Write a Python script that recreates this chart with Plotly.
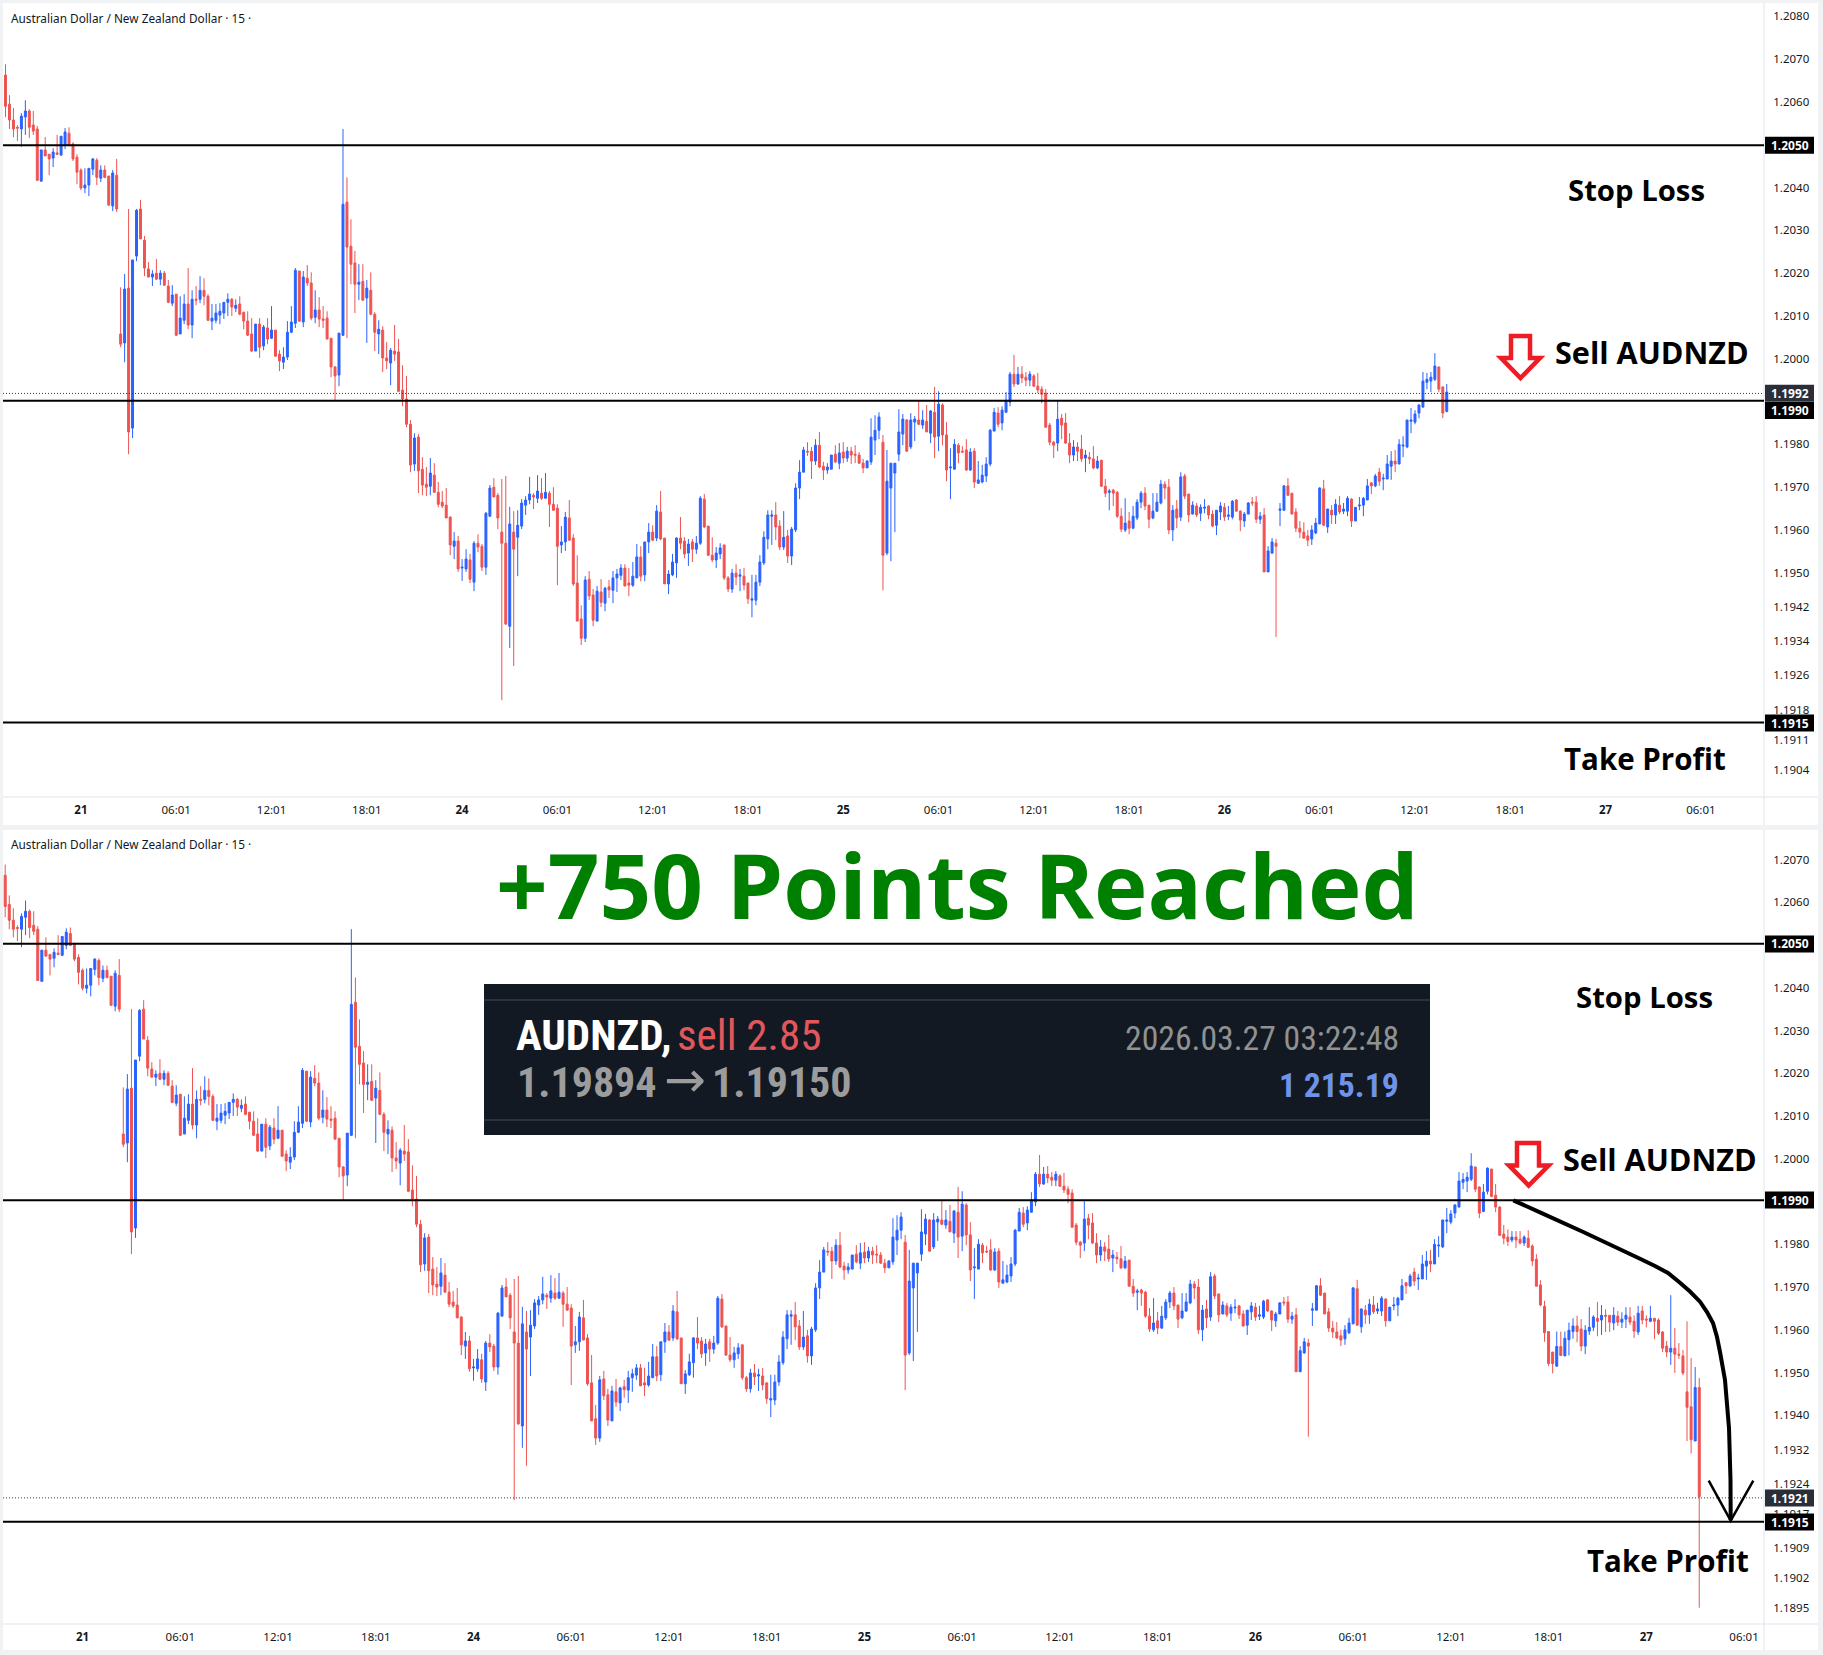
import plotly.graph_objects as go

W, H = 1823, 1655

opens = [
1.20663,1.20595,1.20558,1.20541,1.20537,1.20565,1.20579,1.20546,1.20537,1.20415,
1.20488,1.20478,1.20469,1.20481,1.20476,1.20499,1.20527,1.20502,1.20471,1.20441,
1.20399,1.20406,1.20443,1.20464,1.20422,1.20441,1.20427,1.20357,1.20429,1.20058,
1.20037,1.20165,1.19838,1.20240,1.20350,1.20277,1.20210,1.20191,1.20200,1.20186,
1.20200,1.20170,1.20130,1.20151,1.20058,1.20090,1.20128,1.20079,1.20139,1.20139,
1.20160,1.20146,1.20088,1.20090,1.20102,1.20107,1.20132,1.20139,1.20118,1.20128,
1.20109,1.20088,1.20058,1.20018,1.20081,1.20030,1.20072,1.20048,1.20067,1.20011,
1.19992,1.20004,1.20062,1.20083,1.20205,1.20086,1.20188,1.20177,1.20097,1.20114,
1.20093,1.20095,1.20048,1.19981,1.19962,1.20055,1.20366,1.20263,1.20224,1.20174,
1.20181,1.20142,1.20160,1.20104,1.20058,1.20067,1.20002,1.19990,1.20018,1.20016,
1.19927,1.19906,1.19847,1.19754,1.19817,1.19742,1.19707,1.19702,1.19728,1.19688,
1.19665,1.19658,1.19630,1.19562,1.19574,1.19511,1.19509,1.19530,1.19478,1.19569,
1.19562,1.19513,1.19632,1.19700,1.19681,1.19595,1.19569,1.19375,1.19595,1.19583,
1.19609,1.19658,1.19670,1.19681,1.19674,1.19686,1.19674,1.19686,1.19660,1.19651,
1.19565,1.19572,1.19628,1.19581,1.19476,1.19392,1.19347,1.19485,1.19448,1.19387,
1.19455,1.19429,1.19467,1.19459,1.19488,1.19494,1.19511,1.19476,1.19471,1.19488,
1.19537,1.19495,1.19572,1.19595,1.19581,1.19642,1.19581,1.19474,1.19495,1.19523,
1.19581,1.19574,1.19546,1.19572,1.19555,1.19569,1.19672,1.19609,1.19541,1.19530,
1.19544,1.19565,1.19488,1.19462,1.19499,1.19492,1.19492,1.19476,1.19436,1.19436,
1.19478,1.19523,1.19579,1.19632,1.19635,1.19609,1.19560,1.19586,1.19539,1.19600,
1.19698,1.19735,1.19784,1.19784,1.19761,1.19798,1.19749,1.19740,1.19742,1.19777,
1.19756,1.19782,1.19768,1.19784,1.19777,1.19775,1.19756,1.19745,1.19759,1.19810,
1.19833,1.19805,1.19546,1.19698,1.19733,1.19777,1.19824,1.19857,1.19794,1.19852,
1.19857,1.19845,1.19854,1.19826,1.19875,1.19819,1.19892,1.19822,1.19745,1.19742,
1.19798,1.19784,1.19787,1.19740,1.19784,1.19709,1.19712,1.19726,1.19754,1.19831,
1.19873,1.19850,1.19875,1.19899,1.19964,1.19941,1.19964,1.19957,1.19950,1.19960,
1.19936,1.19929,1.19920,1.19845,1.19805,1.19803,1.19861,1.19850,1.19803,1.19775,
1.19794,1.19789,1.19768,1.19770,1.19766,1.19745,1.19763,1.19702,1.19688,1.19693,
1.19688,1.19632,1.19600,1.19621,1.19604,1.19628,1.19665,1.19686,1.19658,1.19628,
1.19644,1.19663,1.19707,1.19700,1.19600,1.19649,1.19630,1.19726,1.19684,1.19637,
1.19656,1.19639,1.19651,1.19656,1.19637,1.19611,1.19642,1.19653,1.19632,1.19630,
1.19670,1.19644,1.19621,1.19637,1.19665,1.19665,1.19625,1.19635,1.19502,1.19546,
1.19569,1.19646,1.19646,1.19703,1.19686,1.19642,1.19604,1.19595,1.19586,1.19579,
1.19593,1.19614,1.19696,1.19607,1.19646,1.19635,1.19658,1.19644,1.19644,1.19672,
1.19621,1.19656,1.19658,1.19670,1.19710,1.19703,1.19735,1.19719,1.19719,1.19749,
1.19761,1.19754,1.19796,1.19794,1.19854,1.19852,1.19873,1.19887,1.19945,1.19948,
1.19952,1.19981,1.19934,1.19877,1.19924,1.19976,1.19915,1.19887,1.19824,1.19817,
1.19810,1.19817,1.19812,1.19803,1.19814,1.19796,1.19765,1.19705,1.19655,1.19596,
1.19548,1.19515,1.19561,1.19539,1.19577,1.19596,1.19609,1.19602,1.19562,1.19597,
1.19606,1.19627,1.19623,1.19634,1.19634,1.19616,1.19632,1.19618,1.19625,1.19630,
1.19620,1.19595,1.19644,1.19625,1.19620,1.19627,1.19623,1.19595,1.19562,1.19548,
1.19557,1.19543,1.19539,1.19455,1.19420,1.19340,1.19465]

highs = [
1.20688,1.20616,1.20586,1.20546,1.20574,1.20604,1.20583,1.20579,1.20544,1.20488,
1.20518,1.20478,1.20492,1.20523,1.20520,1.20539,1.20541,1.20506,1.20478,1.20445,
1.20445,1.20445,1.20469,1.20469,1.20452,1.20452,1.20427,1.20441,1.20467,1.20167,
1.20198,1.20350,1.20231,1.20350,1.20371,1.20287,1.20226,1.20207,1.20233,1.20207,
1.20205,1.20184,1.20172,1.20151,1.20146,1.20151,1.20212,1.20160,1.20170,1.20193,
1.20188,1.20151,1.20128,1.20128,1.20130,1.20132,1.20153,1.20142,1.20139,1.20146,
1.20109,1.20111,1.20095,1.20081,1.20095,1.20079,1.20095,1.20123,1.20067,1.20020,
1.20027,1.20088,1.20123,1.20212,1.20205,1.20205,1.20219,1.20202,1.20160,1.20144,
1.20123,1.20111,1.20048,1.19983,1.20060,1.20537,1.20424,1.20326,1.20252,1.20221,
1.20221,1.20184,1.20202,1.20109,1.20090,1.20076,1.20039,1.20025,1.20079,1.20046,
1.19985,1.19960,1.19857,1.19826,1.19824,1.19770,1.19747,1.19768,1.19756,1.19712,
1.19691,1.19698,1.19632,1.19595,1.19586,1.19532,1.19555,1.19544,1.19574,1.19590,
1.19567,1.19642,1.19705,1.19721,1.19686,1.19719,1.19726,1.19654,1.19644,1.19646,
1.19672,1.19679,1.19724,1.19686,1.19728,1.19721,1.19733,1.19691,1.19700,1.19660,
1.19609,1.19642,1.19670,1.19590,1.19541,1.19424,1.19492,1.19504,1.19462,1.19469,
1.19485,1.19467,1.19483,1.19504,1.19509,1.19520,1.19520,1.19511,1.19525,1.19567,
1.19562,1.19572,1.19616,1.19611,1.19658,1.19691,1.19581,1.19506,1.19544,1.19583,
1.19630,1.19583,1.19579,1.19579,1.19586,1.19679,1.19684,1.19609,1.19583,1.19560,
1.19569,1.19565,1.19492,1.19509,1.19520,1.19509,1.19511,1.19476,1.19495,1.19495,
1.19541,1.19597,1.19646,1.19646,1.19665,1.19623,1.19644,1.19600,1.19607,1.19709,
1.19763,1.19794,1.19805,1.19794,1.19812,1.19829,1.19759,1.19756,1.19775,1.19798,
1.19803,1.19805,1.19794,1.19794,1.19798,1.19782,1.19766,1.19763,1.19861,1.19868,
1.19875,1.19822,1.19787,1.19756,1.19756,1.19882,1.19871,1.19859,1.19873,1.19866,
1.19903,1.19880,1.19892,1.19880,1.19934,1.19924,1.19896,1.19852,1.19791,1.19812,
1.19803,1.19796,1.19812,1.19791,1.19791,1.19761,1.19752,1.19770,1.19836,1.19885,
1.19887,1.19889,1.19922,1.19969,1.20009,1.19981,1.19983,1.19969,1.19971,1.19964,
1.19967,1.19936,1.19929,1.19850,1.19808,1.19901,1.19871,1.19873,1.19826,1.19810,
1.19805,1.19822,1.19787,1.19782,1.19796,1.19773,1.19763,1.19719,1.19696,1.19696,
1.19691,1.19651,1.19674,1.19642,1.19656,1.19672,1.19691,1.19700,1.19658,1.19686,
1.19686,1.19717,1.19714,1.19719,1.19658,1.19670,1.19735,1.19731,1.19684,1.19667,
1.19663,1.19660,1.19672,1.19658,1.19646,1.19646,1.19665,1.19663,1.19656,1.19670,
1.19672,1.19646,1.19642,1.19665,1.19677,1.19679,1.19642,1.19651,1.19562,1.19581,
1.19579,1.19663,1.19705,1.19721,1.19686,1.19651,1.19621,1.19618,1.19600,1.19611,
1.19628,1.19700,1.19717,1.19649,1.19658,1.19672,1.19679,1.19663,1.19679,1.19674,
1.19653,1.19677,1.19677,1.19719,1.19712,1.19731,1.19745,1.19731,1.19775,1.19784,
1.19787,1.19812,1.19819,1.19857,1.19885,1.19880,1.19894,1.19969,1.19967,1.19969,
1.20013,1.19981,1.19936,1.19941,1.19980,1.19976,1.19941,1.19889,1.19845,1.19835,
1.19831,1.19831,1.19831,1.19821,1.19833,1.19800,1.19777,1.19716,1.19668,1.19596,
1.19548,1.19596,1.19596,1.19596,1.19617,1.19627,1.19633,1.19625,1.19611,1.19653,
1.19634,1.19665,1.19658,1.19648,1.19634,1.19653,1.19644,1.19641,1.19653,1.19653,
1.19634,1.19656,1.19656,1.19634,1.19656,1.19627,1.19627,1.19597,1.19574,1.19681,
1.19604,1.19569,1.19553,1.19620,1.19534,1.19513,1.19487]

lows = [
1.20565,1.20537,1.20518,1.20509,1.20495,1.20523,1.20516,1.20523,1.20417,1.20415,
1.20474,1.20429,1.20448,1.20476,1.20474,1.20490,1.20499,1.20462,1.20408,1.20394,
1.20387,1.20380,1.20429,1.20406,1.20413,1.20422,1.20359,1.20345,1.20343,1.20027,
1.19992,1.19777,1.19815,1.20228,1.20280,1.20193,1.20191,1.20170,1.20184,1.20172,
1.20170,1.20130,1.20123,1.20053,1.20058,1.20081,1.20069,1.20048,1.20125,1.20130,
1.20125,1.20088,1.20067,1.20083,1.20081,1.20093,1.20100,1.20100,1.20109,1.20102,
1.20069,1.20053,1.20016,1.20018,1.20002,1.20020,1.20034,1.20046,1.20006,1.19971,
1.19976,1.19997,1.20060,1.20072,1.20086,1.20074,1.20170,1.20090,1.20083,1.20074,
1.20072,1.20046,1.19957,1.19901,1.19936,1.20053,1.20048,1.20174,1.20107,1.20137,
1.20135,1.20037,1.20102,1.20018,1.20011,1.19969,1.19976,1.19938,1.19995,1.19922,
1.19889,1.19840,1.19735,1.19738,1.19686,1.19681,1.19679,1.19681,1.19688,1.19653,
1.19651,1.19628,1.19541,1.19532,1.19502,1.19481,1.19502,1.19476,1.19457,1.19548,
1.19504,1.19495,1.19632,1.19677,1.19602,1.19202,1.19378,1.19324,1.19282,1.19492,
1.19602,1.19635,1.19660,1.19649,1.19663,1.19670,1.19674,1.19607,1.19646,1.19471,
1.19546,1.19551,1.19576,1.19469,1.19387,1.19331,1.19338,1.19436,1.19375,1.19387,
1.19420,1.19410,1.19441,1.19429,1.19455,1.19483,1.19469,1.19445,1.19467,1.19488,
1.19480,1.19480,1.19546,1.19574,1.19574,1.19576,1.19474,1.19450,1.19492,1.19488,
1.19555,1.19534,1.19516,1.19525,1.19544,1.19565,1.19604,1.19539,1.19525,1.19511,
1.19532,1.19483,1.19455,1.19453,1.19471,1.19457,1.19459,1.19427,1.19396,1.19424,
1.19469,1.19518,1.19555,1.19565,1.19576,1.19553,1.19553,1.19523,1.19518,1.19595,
1.19672,1.19735,1.19773,1.19719,1.19752,1.19744,1.19717,1.19731,1.19742,1.19756,
1.19742,1.19756,1.19759,1.19754,1.19756,1.19754,1.19733,1.19745,1.19752,1.19775,
1.19812,1.19459,1.19541,1.19527,1.19595,1.19761,1.19798,1.19784,1.19789,1.19808,
1.19845,1.19836,1.19829,1.19803,1.19768,1.19784,1.19798,1.19714,1.19672,1.19742,
1.19756,1.19780,1.19738,1.19738,1.19698,1.19709,1.19709,1.19712,1.19749,1.19831,
1.19840,1.19833,1.19875,1.19889,1.19934,1.19939,1.19943,1.19936,1.19936,1.19934,
1.19920,1.19896,1.19840,1.19798,1.19768,1.19784,1.19812,1.19801,1.19756,1.19761,
1.19761,1.19759,1.19735,1.19754,1.19742,1.19742,1.19702,1.19677,1.19646,1.19656,
1.19628,1.19595,1.19595,1.19590,1.19602,1.19623,1.19651,1.19646,1.19604,1.19625,
1.19642,1.19660,1.19672,1.19590,1.19574,1.19604,1.19621,1.19672,1.19618,1.19637,
1.19630,1.19621,1.19639,1.19625,1.19607,1.19588,1.19623,1.19621,1.19623,1.19625,
1.19642,1.19597,1.19607,1.19637,1.19656,1.19616,1.19614,1.19502,1.19502,1.19544,
1.19350,1.19609,1.19646,1.19679,1.19637,1.19595,1.19581,1.19579,1.19562,1.19565,
1.19590,1.19614,1.19609,1.19593,1.19614,1.19614,1.19637,1.19637,1.19632,1.19607,
1.19621,1.19646,1.19632,1.19670,1.19684,1.19700,1.19703,1.19693,1.19719,1.19717,
1.19735,1.19754,1.19770,1.19791,1.19826,1.19847,1.19861,1.19887,1.19929,1.19922,
1.19948,1.19922,1.19861,1.19875,1.19917,1.19910,1.19875,1.19819,1.19800,1.19796,
1.19805,1.19791,1.19800,1.19796,1.19793,1.19749,1.19702,1.19655,1.19572,1.19515,
1.19498,1.19514,1.19540,1.19539,1.19540,1.19579,1.19571,1.19550,1.19543,1.19588,
1.19597,1.19585,1.19588,1.19595,1.19595,1.19599,1.19609,1.19604,1.19604,1.19611,
1.19581,1.19588,1.19613,1.19606,1.19618,1.19578,1.19588,1.19548,1.19536,1.19518,
1.19499,1.19532,1.19494,1.19340,1.19311,1.19340,1.18950]

closes = [
1.20590,1.20558,1.20537,1.20539,1.20567,1.20579,1.20541,1.20532,1.20417,1.20488,
1.20474,1.20467,1.20483,1.20478,1.20520,1.20530,1.20499,1.20467,1.20436,1.20399,
1.20406,1.20445,1.20467,1.20424,1.20441,1.20424,1.20359,1.20434,1.20350,1.20034,
1.20163,1.19829,1.20231,1.20347,1.20280,1.20212,1.20191,1.20198,1.20186,1.20200,
1.20172,1.20132,1.20149,1.20055,1.20095,1.20128,1.20079,1.20139,1.20137,1.20160,
1.20146,1.20090,1.20095,1.20107,1.20111,1.20132,1.20139,1.20121,1.20125,1.20104,
1.20088,1.20055,1.20018,1.20081,1.20027,1.20074,1.20046,1.20067,1.20006,1.19995,
1.20004,1.20062,1.20086,1.20207,1.20088,1.20191,1.20177,1.20095,1.20114,1.20093,
1.20090,1.20046,1.19981,1.19960,1.20060,1.20361,1.20261,1.20221,1.20174,1.20179,
1.20137,1.20165,1.20104,1.20062,1.20069,1.20002,1.19995,1.20020,1.20011,1.19924,
1.19906,1.19847,1.19752,1.19815,1.19738,1.19705,1.19700,1.19733,1.19688,1.19660,
1.19656,1.19628,1.19565,1.19574,1.19509,1.19513,1.19532,1.19485,1.19569,1.19560,
1.19513,1.19639,1.19698,1.19677,1.19628,1.19569,1.19380,1.19614,1.19555,1.19611,
1.19663,1.19670,1.19684,1.19677,1.19691,1.19674,1.19688,1.19660,1.19646,1.19562,
1.19572,1.19630,1.19576,1.19474,1.19387,1.19347,1.19483,1.19446,1.19389,1.19457,
1.19431,1.19464,1.19460,1.19488,1.19497,1.19511,1.19469,1.19471,1.19492,1.19537,
1.19492,1.19572,1.19595,1.19576,1.19644,1.19579,1.19474,1.19497,1.19525,1.19581,
1.19569,1.19544,1.19567,1.19555,1.19569,1.19674,1.19607,1.19541,1.19530,1.19546,
1.19558,1.19488,1.19462,1.19499,1.19490,1.19495,1.19471,1.19439,1.19439,1.19478,
1.19525,1.19583,1.19635,1.19635,1.19607,1.19560,1.19583,1.19539,1.19602,1.19698,
1.19735,1.19787,1.19782,1.19761,1.19798,1.19747,1.19740,1.19747,1.19775,1.19759,
1.19780,1.19768,1.19784,1.19775,1.19775,1.19756,1.19745,1.19761,1.19817,1.19833,
1.19864,1.19541,1.19714,1.19756,1.19756,1.19829,1.19859,1.19784,1.19857,1.19859,
1.19847,1.19857,1.19829,1.19878,1.19817,1.19894,1.19822,1.19740,1.19747,1.19800,
1.19780,1.19782,1.19740,1.19782,1.19712,1.19717,1.19728,1.19754,1.19833,1.19875,
1.19847,1.19880,1.19903,1.19964,1.19941,1.19964,1.19955,1.19950,1.19964,1.19936,
1.19927,1.19917,1.19840,1.19805,1.19798,1.19859,1.19845,1.19803,1.19775,1.19794,
1.19784,1.19766,1.19775,1.19766,1.19745,1.19761,1.19702,1.19686,1.19691,1.19686,
1.19632,1.19602,1.19616,1.19604,1.19632,1.19665,1.19686,1.19656,1.19625,1.19644,
1.19665,1.19707,1.19698,1.19600,1.19646,1.19628,1.19724,1.19679,1.19635,1.19658,
1.19635,1.19653,1.19653,1.19635,1.19609,1.19646,1.19656,1.19630,1.19635,1.19667,
1.19644,1.19623,1.19637,1.19663,1.19663,1.19625,1.19632,1.19502,1.19551,1.19572,
1.19562,1.19649,1.19703,1.19681,1.19637,1.19604,1.19595,1.19581,1.19576,1.19600,
1.19616,1.19698,1.19611,1.19649,1.19635,1.19660,1.19642,1.19649,1.19674,1.19621,
1.19653,1.19658,1.19674,1.19703,1.19703,1.19726,1.19714,1.19721,1.19754,1.19761,
1.19754,1.19800,1.19798,1.19857,1.19857,1.19871,1.19892,1.19948,1.19952,1.19957,
1.19983,1.19929,1.19873,1.19922,1.19978,1.19912,1.19887,1.19821,1.19814,1.19807,
1.19817,1.19810,1.19803,1.19817,1.19793,1.19761,1.19702,1.19658,1.19593,1.19521,
1.19521,1.19561,1.19540,1.19580,1.19599,1.19609,1.19596,1.19562,1.19599,1.19606,
1.19630,1.19620,1.19634,1.19632,1.19618,1.19634,1.19618,1.19625,1.19634,1.19618,
1.19597,1.19639,1.19623,1.19623,1.19627,1.19620,1.19592,1.19557,1.19548,1.19557,
1.19543,1.19541,1.19499,1.19419,1.19343,1.19465,1.19210]

# Candles visible in the first (earlier) snapshot
top_count = 364

time_tick_idx = [19 + 24 * k for k in range(18)]
time_labels = ["<b>21</b>", "06:01", "12:01", "18:01", "<b>24</b>", "06:01", "12:01", "18:01",
               "<b>25</b>", "06:01", "12:01", "18:01", "<b>26</b>", "06:01", "12:01", "18:01",
               "<b>27</b>", "06:01"]

top_ticks = [1.2080, 1.2070, 1.2060, 1.2040, 1.2030, 1.2020, 1.2010, 1.2000, 1.1980, 1.1970,
             1.1960, 1.1950, 1.1942, 1.1934, 1.1926, 1.1918, 1.1911, 1.1904]
bot_ticks = [1.2070, 1.2060, 1.2040, 1.2030, 1.2020, 1.2010, 1.2000, 1.1980, 1.1970, 1.1960,
             1.1950, 1.1940, 1.1932, 1.1924, 1.1917, 1.1909, 1.1902, 1.1895]

top_levels = [1.20499, 1.19902, 1.19150]
bot_levels = [1.20503, 1.19903, 1.19151]
top_last = 1.19919
bot_last = 1.19207

BLUE = "#2962FF"
RED = "#EF5350"
AXIS_FONT = "Noto Sans, Open Sans, sans-serif"
LABEL_FONT = "Open Sans, Noto Sans, sans-serif"
NARROW = "Roboto Condensed, Liberation Sans Narrow, Roboto, sans-serif"
PLOT_R = 1764
PANEL_R = 1818


def px(x):
    return x / W


def py(y):
    return 1 - y / H


def candle(x, o, h, l, c, xa, ya):
    return go.Candlestick(
        x=x, open=o, high=h, low=l, close=c, xaxis=xa, yaxis=ya,
        increasing=dict(line=dict(color=BLUE, width=1), fillcolor=BLUE),
        decreasing=dict(line=dict(color=RED, width=1), fillcolor=RED),
        whiskerwidth=0, hoverinfo="skip", showlegend=False,
    )


fig = go.Figure()
idx = list(range(len(opens)))
fig.add_trace(candle(idx[:top_count], opens[:top_count], highs[:top_count], lows[:top_count],
                     closes[:top_count], "x", "y"))
fig.add_trace(candle(idx, opens, highs, lows, closes, "x2", "y2"))

shapes = []
annos = []


def rect_px(x0, y0, x1, y1, fill, layer="below", line=None):
    shapes.append(dict(type="rect", xref="paper", yref="paper", x0=px(x0), x1=px(x1), y0=py(y0), y1=py(y1),
                       fillcolor=fill, line=dict(width=0) if line is None else line, layer=layer))


def line_px(x0, y0, x1, y1, color, width, layer="above"):
    shapes.append(dict(type="line", xref="paper", yref="paper", x0=px(x0), x1=px(x1), y0=py(y0), y1=py(y1),
                       line=dict(color=color, width=width), layer=layer))


def path_px(points, color, width, fill=None, close=False):
    d = "M" + " L".join(f"{px(a):.5f},{py(b):.5f}" for a, b in points) + (" Z" if close else "")
    s = dict(type="path", xref="paper", yref="paper", path=d, line=dict(color=color, width=width), layer="above")
    if fill:
        s["fillcolor"] = fill
    shapes.append(s)


def text_px(x, y, t, size, color, font=LABEL_FONT, anchor="left"):
    annos.append(dict(xref="paper", yref="paper", x=px(x), y=py(y), text=t, showarrow=False,
                      xanchor=anchor, yanchor="middle", borderpad=0,
                      font=dict(size=size, color=color, family=font)))


def badge(yc, t, fill):
    rect_px(PLOT_R + 1, yc - 8.5, PLOT_R + 50, yc + 8.5, fill, layer="above")
    text_px(PLOT_R + 25.5, yc, f"<b>{t}</b>", 12, "#ffffff", AXIS_FONT, "center")


# panel backgrounds
rect_px(3, 3, PANEL_R, 825, "#ffffff")
rect_px(3, 830, PANEL_R, 1650, "#ffffff")
for y in (797, 1624):
    line_px(3, y, PANEL_R, y, "#E0E3EB", 1, "below")
line_px(PLOT_R, 3, PLOT_R, 825, "#E0E3EB", 1, "below")
line_px(PLOT_R, 830, PLOT_R, 1650, "#E0E3EB", 1, "below")

# levels
for ax, lv in (("y", top_levels), ("y2", bot_levels)):
    for v in lv:
        shapes.append(dict(type="line", xref="paper", yref=ax, x0=px(3), x1=px(PLOT_R), y0=v, y1=v,
                           line=dict(color="#000000", width=2), layer="above"))
for ax, v in (("y", top_last), ("y2", bot_last)):
    shapes.append(dict(type="line", xref="paper", yref=ax, x0=px(3), x1=px(PLOT_R), y0=v, y1=v,
                       line=dict(color="#363A45", width=1, dash="1px,2px"), layer="above"))

# badges
badge(145.3, "1.2050", "#000000")
badge(393.3, "1.1992", "#2A2E39")
badge(410.4, "1.1990", "#000000")
badge(723, "1.1915", "#000000")
badge(944, "1.2050", "#000000")
badge(1200, "1.1990", "#000000")
badge(1498, "1.1921", "#2A2E39")
badge(1522, "1.1915", "#000000")

# red sell arrows
for pts in (
    [(1511, 336), (1530, 336), (1530, 358), (1540, 358), (1520.5, 378), (1501, 358), (1511, 358)],
    [(1517, 1143), (1539, 1143), (1539, 1165.5), (1548.6, 1165.5), (1528.7, 1185.5), (1509, 1165.5),
     (1517, 1165.5)],
):
    path_px(pts, "#EE1C25", 4.5, "#ffffff", True)

# curved black arrow
path_px([(1513.3, 1200.3), (1540, 1212.3), (1583.3, 1232), (1640, 1258.7), (1655, 1266), (1668, 1273),
         (1680, 1282.7), (1690, 1291.5), (1700, 1301.7), (1707, 1312), (1713, 1323), (1717, 1337),
         (1720, 1352), (1725, 1380), (1729, 1428), (1730.5, 1480), (1730.7, 1520)],
        "#000000", 4)
path_px([(1708.7, 1480.7), (1730.7, 1520.7), (1753.3, 1480.7)], "#000000", 2.5)

# result card
rect_px(484, 984, 1430, 1135, "#121922", "above")
line_px(484, 1000, 1430, 1000, "#2A3140", 2)
line_px(484, 1120, 1430, 1120, "#2A3140", 2)

# texts
text_px(10, 17.7, "Australian Dollar / New Zealand Dollar · 15 ·", 11.8, "#131722", AXIS_FONT)
text_px(10, 844, "Australian Dollar / New Zealand Dollar · 15 ·", 11.8, "#131722", AXIS_FONT)

text_px(1567, 189.5, "<b>Stop Loss</b>", 29.3, "#000000")
text_px(1554, 351.8, "<b>Sell AUDNZD</b>", 30.6, "#000000")
text_px(1563, 758, "<b>Take Profit</b>", 29.5, "#000000")
text_px(1575, 996.5, "<b>Stop Loss</b>", 29.3, "#000000")
text_px(1562, 1158.5, "<b>Sell AUDNZD</b>", 30.6, "#000000")
text_px(1586, 1560.5, "<b>Take Profit</b>", 29.5, "#000000")

text_px(495, 884.5, "<b>+750 Points Reached</b>", 90.5, "#008000")

text_px(515, 1035, "<b>AUDNZD,</b>", 43, "#ffffff", NARROW)
text_px(676, 1035, "sell 2.85", 43, "#E2575B", NARROW)
text_px(516, 1082, "<b>1.19894</b>", 42, "#9C9C9C", NARROW)
text_px(684.5, 1080, "→", 50, "#9C9C9C", "DejaVu Sans, Noto Sans, sans-serif", "center")
text_px(710.5, 1082, "<b>1.19150</b>", 42, "#9C9C9C", NARROW)
text_px(1400, 1038, "2026.03.27 03:22:48", 33.7, "#8F9192", NARROW, "right")
text_px(1400, 1085, "<b>1 215.19</b>", 33.7, "#6F93E8", NARROW, "right")

axis_common = dict(showgrid=False, zeroline=False, showline=False, color="#131722")
x_common = dict(axis_common, tickmode="array", tickvals=time_tick_idx, ticktext=time_labels,
                ticks="outside", ticklen=2, tickcolor="rgba(0,0,0,0)",
                tickfont=dict(size=11.5, family=AXIS_FONT, color="#131722"),
                rangeslider=dict(visible=False))
y_common = dict(axis_common, side="right", tickmode="array", ticks="outside", ticklen=6,
                tickcolor="rgba(0,0,0,0)", tickfont=dict(size=11.5, family=AXIS_FONT, color="#131722"))

fig.update_layout(
    width=W, height=H, autosize=False,
    margin=dict(l=0, r=0, t=0, b=0, autoexpand=False),
    paper_bgcolor="#F1F2F4", plot_bgcolor="#ffffff",
    showlegend=False,
    xaxis=dict(x_common, domain=[px(3), px(PLOT_R)], range=[-0.63, 442.9], anchor="y"),
    yaxis=dict(y_common, domain=[py(797), py(4)], range=[1.18976, 1.20829], tickvals=top_ticks,
               ticktext=[f"{v:.4f}" for v in top_ticks], anchor="x"),
    xaxis2=dict(x_common, domain=[px(3), px(PLOT_R)], range=[-0.54, 431.9], anchor="y2"),
    yaxis2=dict(y_common, domain=[py(1624), py(830)], range=[1.18912, 1.20769], tickvals=bot_ticks,
                ticktext=[f"{v:.4f}" for v in bot_ticks], anchor="x2"),
    shapes=shapes, annotations=annos,
)

fig.write_html(
    "out.html",
    config={"displayModeBar": False},
    post_script="document.body.style.margin='0';document.documentElement.style.overflow='hidden';",
)
